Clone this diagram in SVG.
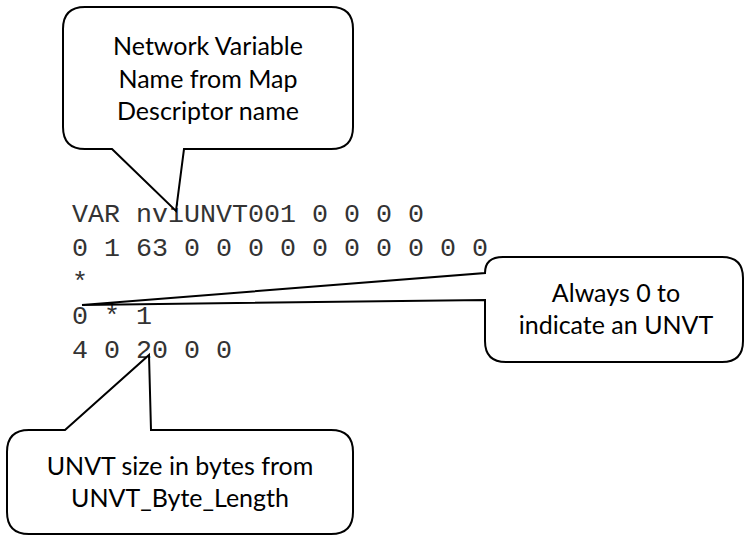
<svg xmlns="http://www.w3.org/2000/svg" width="745" height="536" viewBox="0 0 745 536">
  <style>
    .code { font-family: "Liberation Mono", "Courier New", monospace; font-size: 26.67px; fill: #333333; }
    .callout { fill: #ffffff; stroke: #000000; stroke-width: 2; stroke-linejoin: miter; }
    .label { font-family: Lato, "Open Sans", sans-serif; font-size: 25px; fill: #000000; text-anchor: middle; }
  </style>
  <rect x="0" y="0" width="745" height="536" fill="#ffffff"/>
  <g id="code">
    <text class="code" x="72" y="222" xml:space="preserve">VAR nviUNVT001 0 0 0 0</text>
    <text class="code" x="72" y="256" xml:space="preserve">0 1 63 0 0 0 0 0 0 0 0 0 0</text>
    <text class="code" x="72" y="290" xml:space="preserve">*</text>
    <text class="code" x="72" y="324" xml:space="preserve">0 * 1</text>
    <text class="code" x="72" y="358" xml:space="preserve">4 0 20 0 0</text>
  </g>
  <g id="callout-name">
    <path class="callout" d="M112,149 L176,211 L184,149 L331,149 Q353,149 353,127 L353,29 Q353,7 331,7 L85,7 Q63,7 63,29 L63,127 Q63,149 85,149 Z"/>
    <text class="label" x="208" y="55">Network Variable</text>
    <text class="label" x="208" y="87.5">Name from Map</text>
    <text class="label" x="208" y="120">Descriptor name</text>
  </g>
  <g id="callout-unvt">
    <path class="callout" d="M82,305 L485,273 Q485,257 503,257 L722,257 Q743,257 743,278 L743,341 Q743,362 722,362 L506,362 Q485,362 485,341 L485,300 Z"/>
    <text class="label" x="616" y="302">Always 0 to</text>
    <text class="label" x="616" y="334">indicate an UNVT</text>
  </g>
  <g id="callout-size">
    <path class="callout" d="M65,430 L149,355 L151,430 L331,430 Q353,430 353,452 L353,512 Q353,534 331,534 L29,534 Q7,534 7,512 L7,452 Q7,430 29,430 Z"/>
    <text class="label" x="180" y="475">UNVT size in bytes from</text>
    <text class="label" x="180" y="507">UNVT_Byte_Length</text>
  </g>
  <g id="connectors"></g>
</svg>
